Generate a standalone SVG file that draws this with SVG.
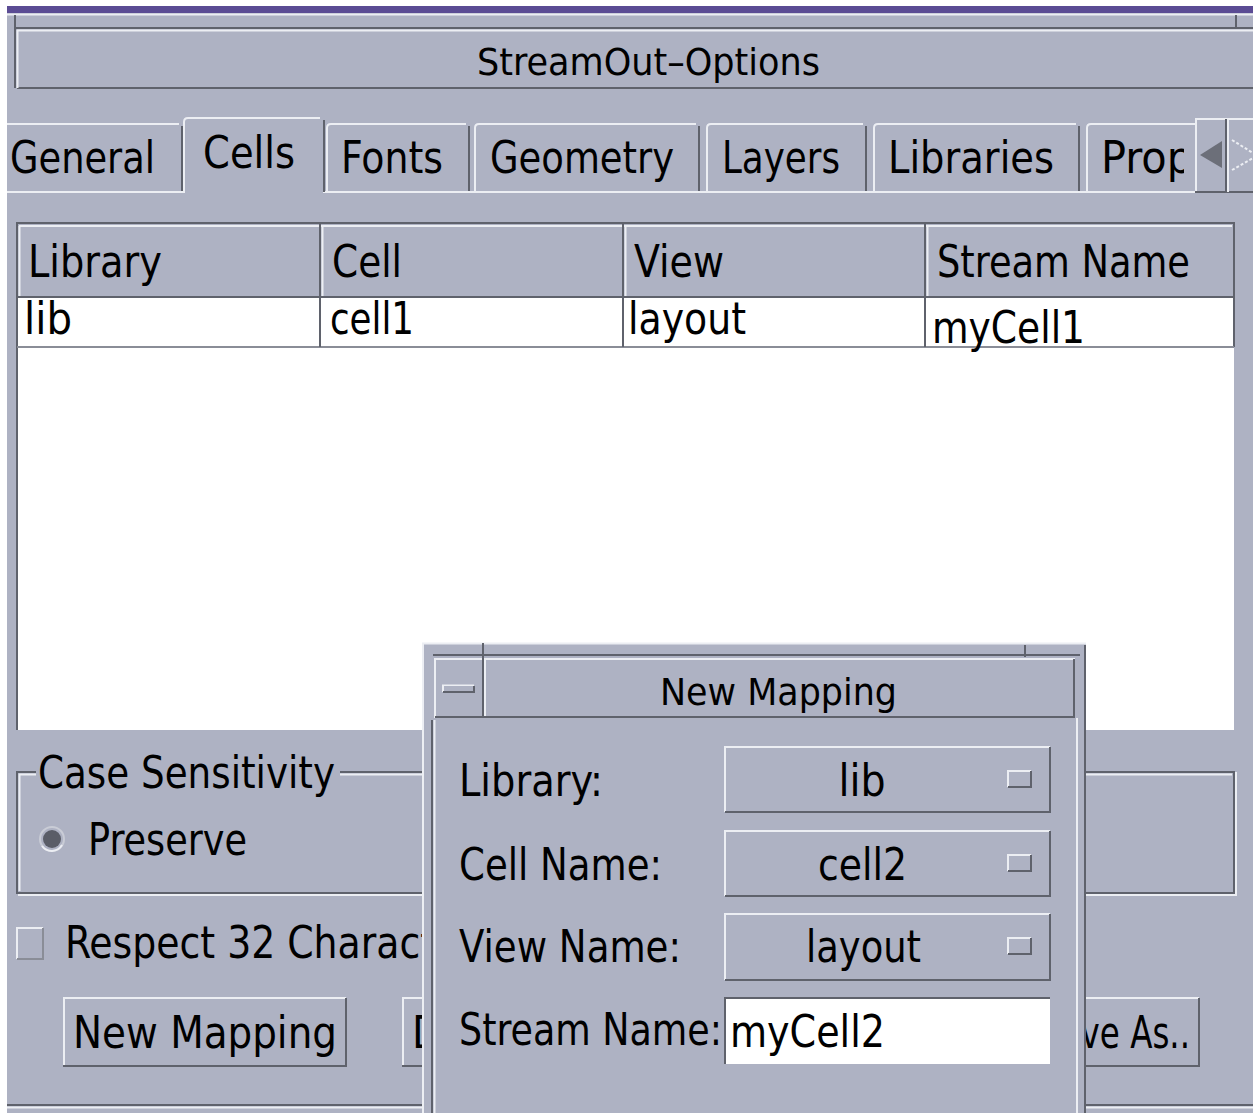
<svg xmlns="http://www.w3.org/2000/svg" width="1253" height="1113" viewBox="0 0 1253 1113">
<style>
.t{font-family:"DejaVu Sans Condensed","DejaVu Sans",sans-serif;font-size:44px;fill:#000}
.ti{font-size:38px}
.lt{stroke:#eceef3;stroke-width:2;fill:none}
.dk{stroke:#5f626c;stroke-width:2;fill:none}
.bg{fill:#aeb2c3}
</style>
<defs>
<clipPath id="propClip"><rect x="1088" y="120" width="96" height="72"/></clipPath>
</defs>
<rect x="0" y="0" width="1253" height="1113" fill="#ffffff"/>
<rect x="7" y="13" width="1246" height="1100" class="bg"/>
<rect x="7" y="6" width="1246" height="7" fill="#5b4c94"/>

<g id="window-title">
<line x1="7" y1="14.5" x2="1253" y2="14.5" class="lt"/>
<line x1="15" y1="28" x2="1253" y2="28" class="dk"/>
<line x1="17" y1="30.5" x2="1253" y2="30.5" class="lt"/>
<line x1="17" y1="88" x2="1253" y2="88" class="dk"/>
<line x1="15" y1="15" x2="15" y2="88" class="dk"/>
<line x1="17.5" y1="30" x2="17.5" y2="88" class="lt"/>
<line x1="1236" y1="15" x2="1236" y2="28" class="dk"/>
<text x="477" y="75" class="t ti" textLength="343" lengthAdjust="spacingAndGlyphs">StreamOut–Options</text>
</g>

<g id="tabs">
<line x1="7" y1="192" x2="183" y2="192" class="lt"/>
<line x1="323" y1="192" x2="1253" y2="192" class="lt"/>
<g id="tab-general">
<path d="M7,124 H179" class="lt"/><path d="M182,126 V191" class="dk"/>
<text x="10" y="173" class="t" textLength="145" lengthAdjust="spacingAndGlyphs">General</text>
</g>
<g id="tab-cells">
<path d="M184,193 V122 Q184,118 188,118 H320" class="lt"/><path d="M324,120 V192" class="dk"/>
<text x="203" y="168" class="t" textLength="92" lengthAdjust="spacingAndGlyphs">Cells</text>
</g>
<g id="tab-fonts">
<path d="M327,191 V128 Q327,124 331,124 H466" class="lt"/><path d="M469,126 V191" class="dk"/>
<text x="341" y="173" class="t" textLength="102" lengthAdjust="spacingAndGlyphs">Fonts</text>
</g>
<g id="tab-geometry">
<path d="M475,191 V128 Q475,124 479,124 H696" class="lt"/><path d="M699,126 V191" class="dk"/>
<text x="490" y="173" class="t" textLength="184" lengthAdjust="spacingAndGlyphs">Geometry</text>
</g>
<g id="tab-layers">
<path d="M707,191 V128 Q707,124 711,124 H863" class="lt"/><path d="M866,126 V191" class="dk"/>
<text x="722" y="173" class="t" textLength="118" lengthAdjust="spacingAndGlyphs">Layers</text>
</g>
<g id="tab-libraries">
<path d="M874,191 V128 Q874,124 878,124 H1076" class="lt"/><path d="M1079,126 V191" class="dk"/>
<text x="888" y="173" class="t" textLength="166" lengthAdjust="spacingAndGlyphs">Libraries</text>
</g>
<g id="tab-prop">
<path d="M1087,191 V128 Q1087,124 1091,124 H1195" class="lt"/>
<text x="1101" y="173" class="t" textLength="92" lengthAdjust="spacingAndGlyphs" clip-path="url(#propClip)">Prop</text>
</g>
<g id="tab-scroll">
<rect x="1195" y="118" width="58" height="74" class="bg"/>
<path d="M1196,191 V119 H1253" class="lt"/>
<path d="M1195,192 H1253" class="dk"/>
<line x1="1226" y1="119" x2="1226" y2="192" class="dk"/>
<line x1="1228" y1="119" x2="1228" y2="192" class="lt"/>
<polygon points="1200,155 1222,141 1222,168" fill="#6c6f79"/>
<path d="M1232,140 L1253,153 M1232,170 L1253,158" stroke="#eceef3" stroke-width="2" stroke-dasharray="3,2" fill="none"/>
</g>
</g>

<g id="table">
<rect x="17" y="224" width="1217" height="506" fill="#ffffff"/>
<rect x="17" y="224" width="1217" height="73" class="bg"/>
<path d="M17,730 V223 H1234 V347" class="dk"/>
<line x1="17" y1="297" x2="1234" y2="297" class="dk"/>
<line x1="17" y1="347" x2="1234" y2="347" stroke="#8a8d97" stroke-width="2"/>
<line x1="19" y1="226" x2="1232" y2="226" class="lt"/>
<line x1="19.5" y1="226" x2="19.5" y2="296" class="lt"/>
<line x1="320" y1="224" x2="320" y2="347" class="dk"/>
<line x1="322.5" y1="226" x2="322.5" y2="296" class="lt"/>
<line x1="623" y1="224" x2="623" y2="347" class="dk"/>
<line x1="625.5" y1="226" x2="625.5" y2="296" class="lt"/>
<line x1="925" y1="224" x2="925" y2="347" class="dk"/>
<line x1="927.5" y1="226" x2="927.5" y2="296" class="lt"/>
<text x="28" y="277" class="t" textLength="134" lengthAdjust="spacingAndGlyphs">Library</text>
<text x="332" y="277" class="t" textLength="70" lengthAdjust="spacingAndGlyphs">Cell</text>
<text x="634" y="277" class="t" textLength="90" lengthAdjust="spacingAndGlyphs">View</text>
<text x="937" y="277" class="t" textLength="253" lengthAdjust="spacingAndGlyphs">Stream Name</text>
<text x="24" y="334" class="t" textLength="48" lengthAdjust="spacingAndGlyphs">lib</text>
<text x="330" y="334" class="t" textLength="84" lengthAdjust="spacingAndGlyphs">cell1</text>
<text x="628" y="334" class="t" textLength="118" lengthAdjust="spacingAndGlyphs">layout</text>
<text x="932" y="343" class="t" textLength="153" lengthAdjust="spacingAndGlyphs">myCell1</text>
</g>

<g id="case-sensitivity">
<path d="M36,772 H17 V893 H1234 V772 H340" class="dk"/>
<path d="M36,774.5 H19.5 V891" class="lt"/>
<path d="M18,895 H1236 V772" class="lt"/>
<path d="M340,774.5 H1232" class="lt"/>
<text x="38" y="788" class="t" textLength="297" lengthAdjust="spacingAndGlyphs">Case Sensitivity</text>
<circle cx="52" cy="839" r="12" fill="none" stroke="#c9ccd6" stroke-width="2"/>
<circle cx="52" cy="839" r="9" fill="#5a5d67"/>
<path d="M42,846 A12,12 0 0 0 62,845" stroke="#eceef3" stroke-width="2" fill="none"/>
<text x="88" y="855" class="t" textLength="159" lengthAdjust="spacingAndGlyphs">Preserve</text>
</g>

<g id="respect-checkbox">
<rect x="17" y="928" width="26" height="31" class="bg"/>
<path d="M17,959 V928 H43" class="lt"/>
<path d="M43,928 V959 H17" stroke="#8a8d97" stroke-width="2" fill="none"/>
<text x="65" y="958" class="t" textLength="370" lengthAdjust="spacingAndGlyphs">Respect 32 Charact</text>
</g>

<g id="btn-new-mapping">
<path d="M64,1066 V998 H346" class="lt"/>
<path d="M346,998 V1066 H63" class="dk"/>
<text x="73" y="1048" class="t" textLength="264" lengthAdjust="spacingAndGlyphs">New Mapping</text>
</g>
<g id="btn-second">
<path d="M403,1066 V998 H480" class="lt"/>
<path d="M402,1066 H480" class="dk"/>
<text x="412" y="1048" class="t">D</text>
</g>
<g id="btn-save-as">
<path d="M1000,1066 V998 H1199" class="lt"/>
<path d="M1199,998 V1066 H1000" class="dk"/>
<text x="1040" y="1048" class="t" textLength="150" lengthAdjust="spacingAndGlyphs">Save As..</text>
</g>
<line x1="7" y1="1105" x2="1253" y2="1105" class="dk"/>
<line x1="7" y1="1107.5" x2="1253" y2="1107.5" class="lt"/>

<g id="dialog-new-mapping">
<rect x="422" y="643" width="664" height="470" class="bg"/>
<path d="M423,1113 V643.5 H1086" class="lt"/>
<line x1="1085" y1="645" x2="1085" y2="1113" class="dk"/>
<line x1="1025" y1="645" x2="1025" y2="657" class="dk"/>
<line x1="433" y1="655" x2="1080" y2="655" class="dk"/>
<line x1="432" y1="720" x2="432" y2="1113" class="dk"/>
<line x1="434.5" y1="720" x2="434.5" y2="1113" class="lt"/>
<line x1="1077" y1="718" x2="1077" y2="1113" class="lt"/>
<g id="dialog-title">
<path d="M435,718 V659 H1075" class="lt"/>
<path d="M1074,659 V717 H435" class="dk"/>
<line x1="483" y1="643" x2="483" y2="718" class="dk"/>
<line x1="485" y1="659" x2="485" y2="716" class="lt"/>
<path d="M443,692 V685.5 H474" class="lt"/>
<path d="M474,686 V692 H443" class="dk"/>
<rect x="444" y="686" width="29" height="5" class="bg"/>
<text x="660" y="705" class="t ti" textLength="237" lengthAdjust="spacingAndGlyphs">New Mapping</text>
</g>
<g id="field-library">
<text x="459" y="796" class="t" textLength="144" lengthAdjust="spacingAndGlyphs">Library:</text>
<path d="M725,812 V747 H1050" class="lt"/>
<path d="M1050,747 V812 H725" class="dk"/>
<path d="M1008,787 V771 H1031" class="lt"/><path d="M1031,771 V787 H1008" class="dk"/>
<text x="862" y="796" class="t" text-anchor="middle">lib</text>
</g>
<g id="field-cell-name">
<text x="459" y="880" class="t" textLength="203" lengthAdjust="spacingAndGlyphs">Cell Name:</text>
<path d="M725,896 V831 H1050" class="lt"/>
<path d="M1050,831 V896 H725" class="dk"/>
<path d="M1008,871 V855 H1031" class="lt"/><path d="M1031,855 V871 H1008" class="dk"/>
<text x="818" y="880" class="t" textLength="89" lengthAdjust="spacingAndGlyphs">cell2</text>
</g>
<g id="field-view-name">
<text x="459" y="962" class="t" textLength="222" lengthAdjust="spacingAndGlyphs">View Name:</text>
<path d="M725,980 V914 H1050" class="lt"/>
<path d="M1050,914 V980 H725" class="dk"/>
<path d="M1008,954 V938 H1031" class="lt"/><path d="M1031,938 V954 H1008" class="dk"/>
<text x="806" y="962" class="t" textLength="115" lengthAdjust="spacingAndGlyphs">layout</text>
</g>
<g id="field-stream-name">
<text x="459" y="1045" class="t" textLength="263" lengthAdjust="spacingAndGlyphs">Stream Name:</text>
<rect x="725" y="998" width="325" height="66" fill="#ffffff"/>
<path d="M725,1064 V998 H1050" class="dk"/>
<text x="730" y="1047" class="t" textLength="155" lengthAdjust="spacingAndGlyphs">myCell2</text>
</g>
</g>
</svg>
